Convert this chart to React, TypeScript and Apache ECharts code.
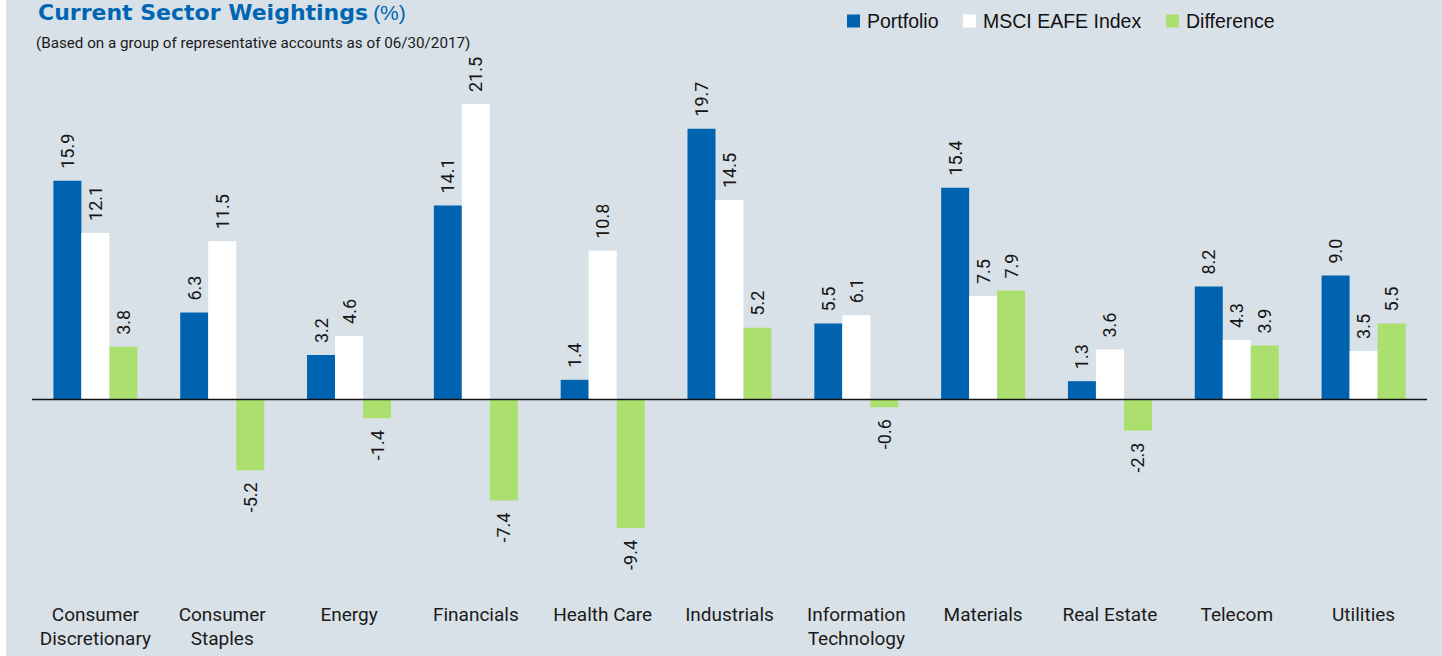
import React, { useEffect, useRef } from 'react';
import * as echarts from 'echarts';

const categories = [
  'Consumer\nDiscretionary',
  'Consumer\nStaples',
  'Energy',
  'Financials',
  'Health Care',
  'Industrials',
  'Information\nTechnology',
  'Materials',
  'Real Estate',
  'Telecom',
  'Utilities',
];
const portfolio = [15.9, 6.3, 3.2, 14.1, 1.4, 19.7, 5.5, 15.4, 1.3, 8.2, 9.0];
const msciEafe = [12.1, 11.5, 4.6, 21.5, 10.8, 14.5, 6.1, 7.5, 3.6, 4.3, 3.5];
const difference = [3.8, -5.2, -1.4, -7.4, -9.4, 5.2, -0.6, 7.9, -2.3, 3.9, 5.5];
const seriesNames = ['Portfolio', 'MSCI EAFE Index', 'Difference'];
const seriesColors = ['#0063b0', '#ffffff', '#abdf6e'];
const legendLeft = [847, 963, 1166];

const NARROW = "Roboto, 'Liberation Sans', sans-serif";
const SANS = "'Liberation Sans', Arial, sans-serif";

function toItems(values: number[]) {
  return values.map((v) => ({
    value: v,
    label: v >= 0
      ? { position: 'top', align: 'left', verticalAlign: 'middle' }
      : { position: 'bottom', align: 'right', verticalAlign: 'middle' },
  }));
}

export default function App() {
  const ref = useRef<HTMLDivElement>(null);

  useEffect(() => {
    if (!ref.current) return;
    const chart = echarts.init(ref.current, undefined, { renderer: 'svg' });
    const allValues = [portfolio, msciEafe, difference];

    const series: any[] = allValues.map((vals, i) => ({
      name: seriesNames[i],
      type: 'bar',
      barWidth: 28,
      barGap: '0%',
      itemStyle: { color: seriesColors[i] },
      data: toItems(vals),
      label: {
        show: true,
        rotate: 90,
        distance: 12,
        fontFamily: NARROW,
        fontSize: 18,
        color: '#151515',
        formatter: (p: any) => Number(p.value).toFixed(1),
      },
      ...(i === 2
        ? {
            markLine: {
              silent: true,
              symbol: 'none',
              label: { show: false },
              lineStyle: { color: '#111111', width: 1.3, type: 'solid' },
              data: [{ yAxis: 0 }],
            },
          }
        : {}),
    }));

    chart.setOption({
      animation: false,
      backgroundColor: '#ffffff',
      graphic: [
        {
          type: 'rect',
          silent: true,
          z: -10,
          shape: { x: 6, y: 0, width: 1436, height: 656 },
          style: { fill: '#d9e1e8' },
        },
      ],
      title: [
        {
          text: '{a|Current Sector Weightings} {b|(%)}',
          left: 38,
          top: 1,
          padding: 0,
          textStyle: {
            rich: {
              a: {
                fontFamily: "'DejaVu Sans', sans-serif",
                fontWeight: 'bold',
                fontSize: 22,
                color: '#0066b3',
              },
              b: {
                fontFamily: SANS,
                fontWeight: 'normal',
                fontSize: 21,
                color: '#0066b3',
              },
            },
          },
        },
        {
          text: '(Based on a group of representative accounts as of 06/30/2017)',
          left: 36,
          top: 35,
          padding: 0,
          textStyle: {
            fontFamily: NARROW,
            fontWeight: 'normal',
            fontSize: 15.2,
            color: '#1a1a1a',
          },
        },
      ],
      legend: seriesNames.map((name, i) => ({
        data: [name],
        left: legendLeft[i],
        top: 11,
        padding: 0,
        icon: 'rect',
        itemWidth: 13,
        itemHeight: 13,
        selectedMode: false,
        textStyle: {
          fontFamily: SANS,
          fontSize: 19.5,
          color: '#111111',
          padding: [0, 0, 0, 2],
        },
      })),
      grid: { left: 32, right: 15, top: 69.7, height: 521.4 },
      xAxis: {
        type: 'category',
        data: categories,
        axisLine: { show: false },
        axisTick: { show: false },
        axisLabel: {
          interval: 0,
          margin: 11,
          verticalAlign: 'top',
          fontFamily: NARROW,
          fontSize: 19,
          lineHeight: 24,
          color: '#1a1a1a',
        },
      },
      yAxis: {
        type: 'value',
        min: -14,
        max: 24,
        show: false,
        splitLine: { show: false },
      },
      series,
    });

    return () => chart.dispose();
  }, []);

  return (
    <div
      ref={ref}
      style={{ position: 'fixed', left: 0, top: 0, width: 1442, height: 656 }}
    />
  );
}
